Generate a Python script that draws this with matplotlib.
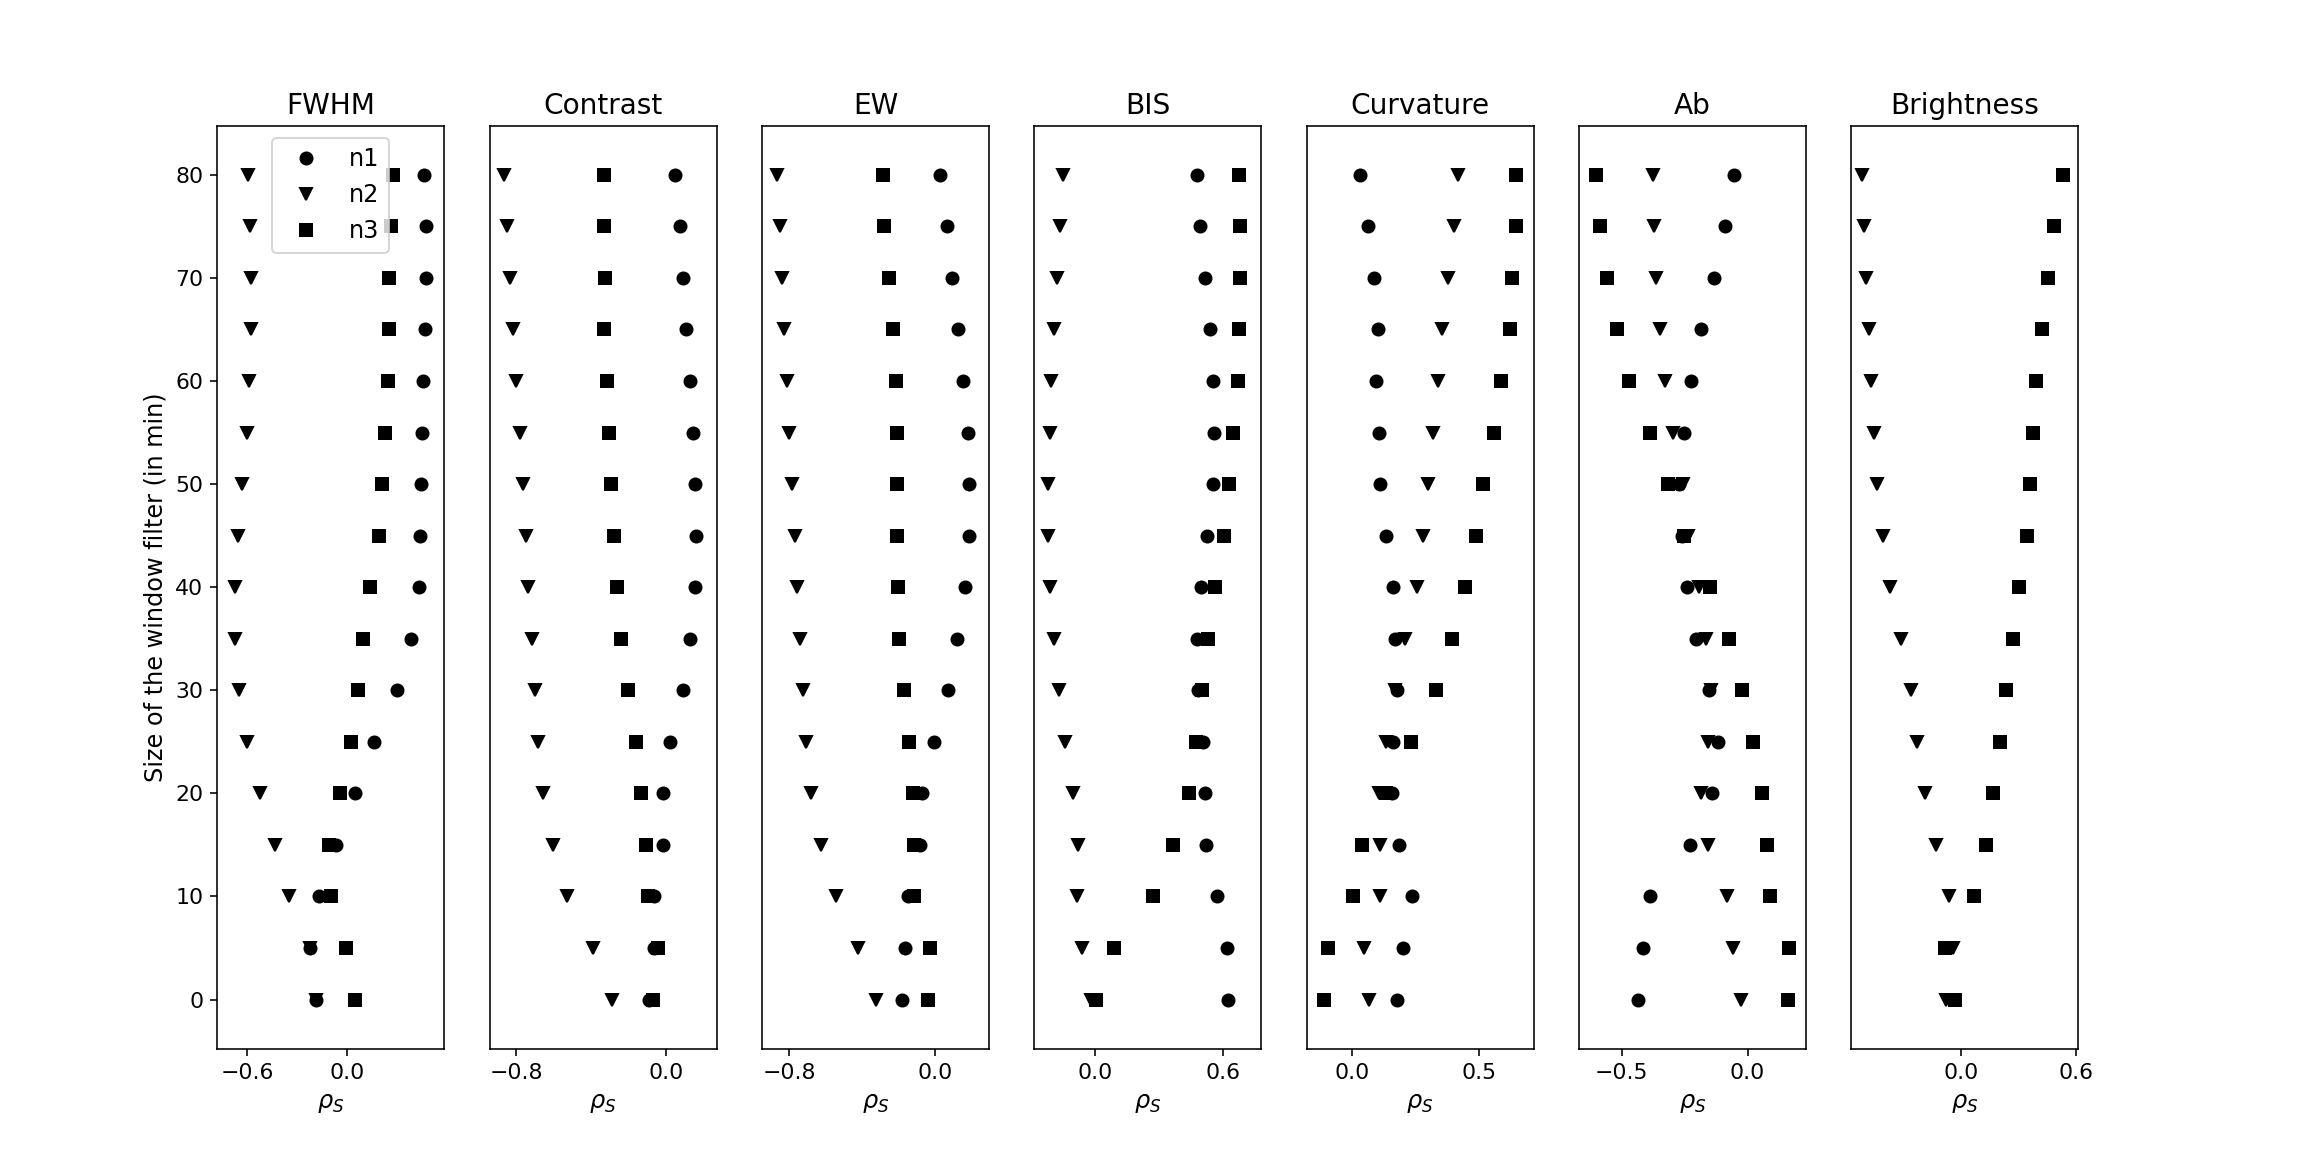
import numpy as np
import matplotlib
matplotlib.use("Agg")
import matplotlib.pyplot as plt

#########################
# DATA (spearman rho vs window size)
#########################
window = [80, 75, 70, 65, 60, 55, 50, 45, 40, 35, 30, 25, 20, 15, 10, 5, 0]

titles = ["FWHM", "Contrast", "EW", "BIS", "Curvature", "Ab", "Brightness"]

fwhm_n1 = [0.459, 0.467, 0.467, 0.461, 0.453, 0.445, 0.437, 0.431, 0.425, 0.377, 0.294, 0.159, 0.046, -0.071, -0.169, -0.224, -0.189]
fwhm_n2 = [-0.592, -0.584, -0.578, -0.578, -0.586, -0.600, -0.627, -0.651, -0.669, -0.671, -0.649, -0.598, -0.522, -0.435, -0.347, -0.224, -0.189]
fwhm_n3 = [0.272, 0.260, 0.246, 0.248, 0.242, 0.224, 0.205, 0.185, 0.137, 0.093, 0.060, 0.018, -0.044, -0.111, -0.099, -0.006, 0.042]

contrast_n1 = [0.047, 0.074, 0.088, 0.102, 0.125, 0.141, 0.153, 0.160, 0.151, 0.125, 0.088, 0.022, -0.018, -0.020, -0.064, -0.068, -0.094]
contrast_n2 = [-0.862, -0.846, -0.832, -0.816, -0.798, -0.779, -0.765, -0.747, -0.737, -0.717, -0.701, -0.680, -0.654, -0.604, -0.530, -0.391, -0.290]
contrast_n3 = [-0.334, -0.329, -0.325, -0.329, -0.317, -0.306, -0.292, -0.281, -0.262, -0.239, -0.202, -0.161, -0.136, -0.108, -0.098, -0.045, -0.071]

ew_n1 = [0.028, 0.064, 0.095, 0.126, 0.155, 0.181, 0.188, 0.185, 0.163, 0.121, 0.071, -0.005, -0.071, -0.084, -0.146, -0.164, -0.179]
ew_n2 = [-0.866, -0.849, -0.838, -0.829, -0.814, -0.798, -0.783, -0.769, -0.756, -0.738, -0.723, -0.707, -0.681, -0.628, -0.544, -0.420, -0.323]
ew_n3 = [-0.288, -0.278, -0.254, -0.230, -0.212, -0.210, -0.210, -0.210, -0.206, -0.199, -0.170, -0.142, -0.121, -0.113, -0.117, -0.029, -0.038]

bis_n1 = [0.480, 0.491, 0.514, 0.537, 0.554, 0.556, 0.551, 0.526, 0.497, 0.478, 0.481, 0.508, 0.515, 0.519, 0.570, 0.618, 0.623]
bis_n2 = [-0.149, -0.164, -0.178, -0.191, -0.203, -0.208, -0.217, -0.219, -0.209, -0.192, -0.169, -0.141, -0.102, -0.080, -0.083, -0.062, -0.018]
bis_n3 = [0.675, 0.680, 0.679, 0.677, 0.669, 0.646, 0.626, 0.604, 0.562, 0.529, 0.503, 0.475, 0.442, 0.366, 0.271, 0.089, 0.004]

curv_n1 = [0.030, 0.063, 0.086, 0.104, 0.096, 0.106, 0.111, 0.134, 0.161, 0.171, 0.178, 0.163, 0.156, 0.185, 0.236, 0.203, 0.176]
curv_n2 = [0.420, 0.405, 0.380, 0.357, 0.339, 0.320, 0.302, 0.280, 0.255, 0.211, 0.169, 0.135, 0.108, 0.110, 0.110, 0.048, 0.068]
curv_n3 = [0.650, 0.649, 0.632, 0.623, 0.589, 0.561, 0.519, 0.489, 0.447, 0.394, 0.331, 0.232, 0.134, 0.039, 0.005, -0.095, -0.113]

ab_n1 = [-0.053, -0.088, -0.135, -0.186, -0.223, -0.252, -0.274, -0.262, -0.239, -0.206, -0.153, -0.117, -0.143, -0.230, -0.387, -0.416, -0.434]
ab_n2 = [-0.376, -0.372, -0.362, -0.348, -0.329, -0.297, -0.258, -0.235, -0.195, -0.165, -0.146, -0.157, -0.186, -0.159, -0.083, -0.057, -0.027]
ab_n3 = [-0.601, -0.586, -0.558, -0.519, -0.470, -0.389, -0.317, -0.252, -0.150, -0.073, -0.023, 0.022, 0.058, 0.076, 0.091, 0.163, 0.159]

# no n1 points visible for brightness
bright_n1 = [np.nan] * 17
bright_n2 = [-0.520, -0.511, -0.499, -0.486, -0.472, -0.460, -0.441, -0.413, -0.373, -0.315, -0.266, -0.231, -0.192, -0.133, -0.065, -0.042, -0.079]
bright_n3 = [0.534, 0.486, 0.455, 0.420, 0.390, 0.374, 0.359, 0.345, 0.303, 0.269, 0.234, 0.201, 0.164, 0.128, 0.068, -0.087, -0.035]

series = [
    (fwhm_n1, fwhm_n2, fwhm_n3),
    (contrast_n1, contrast_n2, contrast_n3),
    (ew_n1, ew_n2, ew_n3),
    (bis_n1, bis_n2, bis_n3),
    (curv_n1, curv_n2, curv_n3),
    (ab_n1, ab_n2, ab_n3),
    (bright_n1, bright_n2, bright_n3),
]

#########################
# AXES SETTINGS
#########################
XLIMS = [(-0.777, 0.577), (-0.940, 0.267), (-0.949, 0.295), (-0.283, 0.779),
         (-0.180, 0.718), (-0.670, 0.232), (-0.577, 0.612)]
XTICKS = [[-0.6, 0.0], [-0.8, 0.0], [-0.8, 0.0], [0.0, 0.6],
          [0.0, 0.5], [-0.5, 0.0], [0.0, 0.6]]

fig, axes = plt.subplots(ncols=7, figsize=(2299 / 144, 1154 / 144), dpi=144)
fig.subplots_adjust(left=0.0945, right=0.904, bottom=0.0914, top=0.891, wspace=0.2)

for i, ax in enumerate(axes):
    n1, n2, n3 = series[i]
    ax.plot(n1, window, 'ko', label='n1')
    ax.plot(n2, window, 'kv', label='n2')
    ax.plot(n3, window, 'ks', label='n3')
    ax.set_title(titles[i], fontsize=14)
    ax.set_xlim(XLIMS[i])
    ax.set_xticks(XTICKS[i])
    ax.set_ylim(-4.75, 84.75)
    ax.set_xlabel(r'$\rho_S$', fontsize=12)
    ax.tick_params(labelsize=11)
    if i == 0:
        ax.set_yticks(np.arange(0, 81, 10))
        ax.set_ylabel('Size of the window filter (in min)', fontsize=12)
        ax.legend(loc='upper center', fontsize=12)
    else:
        ax.set_yticks([])

fig.savefig('out.png', dpi=144)
